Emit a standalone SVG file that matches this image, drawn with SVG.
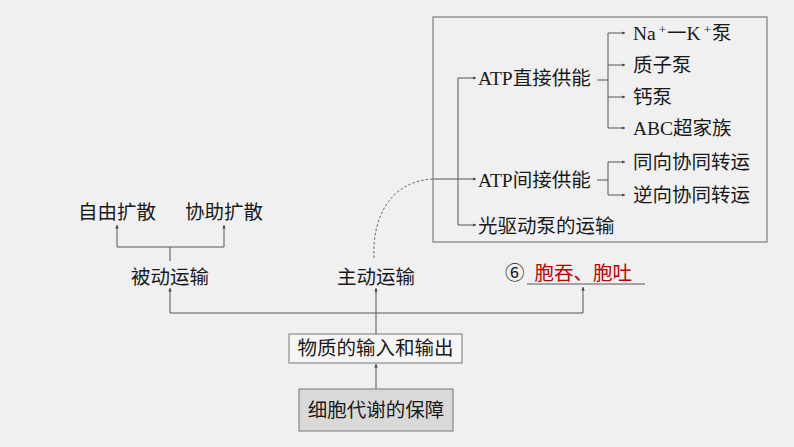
<svg xmlns="http://www.w3.org/2000/svg" width="794" height="447" viewBox="0 0 794 447">
<defs>
<marker id="ah" viewBox="0 0 6 6" refX="6" refY="3" markerWidth="3.5" markerHeight="3.5" orient="auto" markerUnits="userSpaceOnUse">
<path d="M0,0 L6,3 L0,6 z" fill="#444"/>
</marker>
</defs>
<style>
.t{font-family:"Noto Sans CJK SC","Liberation Sans",sans-serif;font-size:19.5px;fill:#1a1a1a}
.m{font-family:"Liberation Serif","Noto Sans CJK SC",serif;font-size:19.5px;fill:#1a1a1a}
.r{fill:#c00000}
.ln{fill:none;stroke:#555;stroke-width:1}
.ar{fill:none;stroke:#555;stroke-width:1;marker-end:url(#ah)}
.dash{fill:none;stroke:#666;stroke-width:1;stroke-dasharray:2.5 2}
</style>
<rect width="794" height="447" fill="#f0f0f0"/>

<g id="connectors">
<path class="ln" d="M458,78 V225"/>
<path class="ar" d="M458,78 H476"/>
<path class="ar" d="M458,225 H476"/>
<path class="ar" d="M433,179 H476"/>
<path class="ln" d="M597,80 H608"/>
<path class="ln" d="M608,33 V128"/>
<path class="ar" d="M608,33 H625"/>
<path class="ar" d="M608,65 H625"/>
<path class="ar" d="M608,97 H625"/>
<path class="ar" d="M608,128 H625"/>
<path class="ln" d="M597,180 H608"/>
<path class="ln" d="M608,162 V195"/>
<path class="ar" d="M608,162 H625"/>
<path class="ar" d="M608,195 H625"/>
<path class="dash" d="M374,258 C372,215 392,181 433,179"/>
<path class="ln" d="M117,247 H224"/>
<path class="ar" d="M117,247 V225"/>
<path class="ar" d="M224,247 V225"/>
<path class="ln" d="M170,247 V261"/>
<path class="ln" d="M170,313 H583"/>
<path class="ar" d="M170,313 V288"/>
<path class="ar" d="M583,313 V287"/>
<path class="ar" d="M376,313 V288"/>
<path class="ln" d="M376,313 V334"/>
<path class="ar" d="M376,389 V364"/>
<path class="ln" d="M527,284 H645"/>
</g>

<g id="box-active">
<rect x="433" y="17" width="334" height="225" fill="none" stroke="#666" stroke-width="1"/>
</g>

<g id="n-atp-direct"><text class="m" x="478" y="85">ATP直接供能</text></g>
<g id="n-nak"><text class="m" x="633" y="40">Na<tspan font-size="13" dx="3" dy="-6">+</tspan><tspan dx="1" dy="6" font-family="Noto Sans CJK SC">一</tspan>K<tspan font-size="13" dx="3" dy="-6">+</tspan><tspan dx="1" dy="6" font-family="Noto Sans CJK SC">泵</tspan></text></g>
<g id="n-proton"><text class="t" x="633" y="72">质子泵</text></g>
<g id="n-ca"><text class="t" x="633" y="104">钙泵</text></g>
<g id="n-abc"><text class="m" x="633" y="135">ABC超家族</text></g>
<g id="n-atp-indirect"><text class="m" x="478" y="187">ATP间接供能</text></g>
<g id="n-sym"><text class="t" x="633" y="169">同向协同转运</text></g>
<g id="n-anti"><text class="t" x="633" y="202">逆向协同转运</text></g>
<g id="n-light"><text class="t" x="478" y="233">光驱动泵的运输</text></g>

<g id="n-free"><text class="t" x="78" y="219">自由扩散</text></g>
<g id="n-facil"><text class="t" x="185" y="219">协助扩散</text></g>
<g id="n-passive"><text class="t" x="131" y="284">被动运输</text></g>
<g id="n-active"><text class="t" x="337" y="284">主动运输</text></g>
<g id="n-endo"><text class="t" x="505" y="280">⑥<tspan class="r" dx="10">胞吞、胞吐</tspan></text></g>

<g id="n-io">
<rect x="289" y="334" width="173" height="29" fill="#f5f5f5" stroke="#777" stroke-width="1"/>
<text class="t" x="375.5" y="355" text-anchor="middle">物质的输入和输出</text>
</g>
<g id="n-root">
<rect x="299" y="389" width="154" height="42" fill="#d9d9d9" stroke="#777" stroke-width="1"/>
<text class="t" x="376" y="417" text-anchor="middle">细胞代谢的保障</text>
</g>
</svg>
